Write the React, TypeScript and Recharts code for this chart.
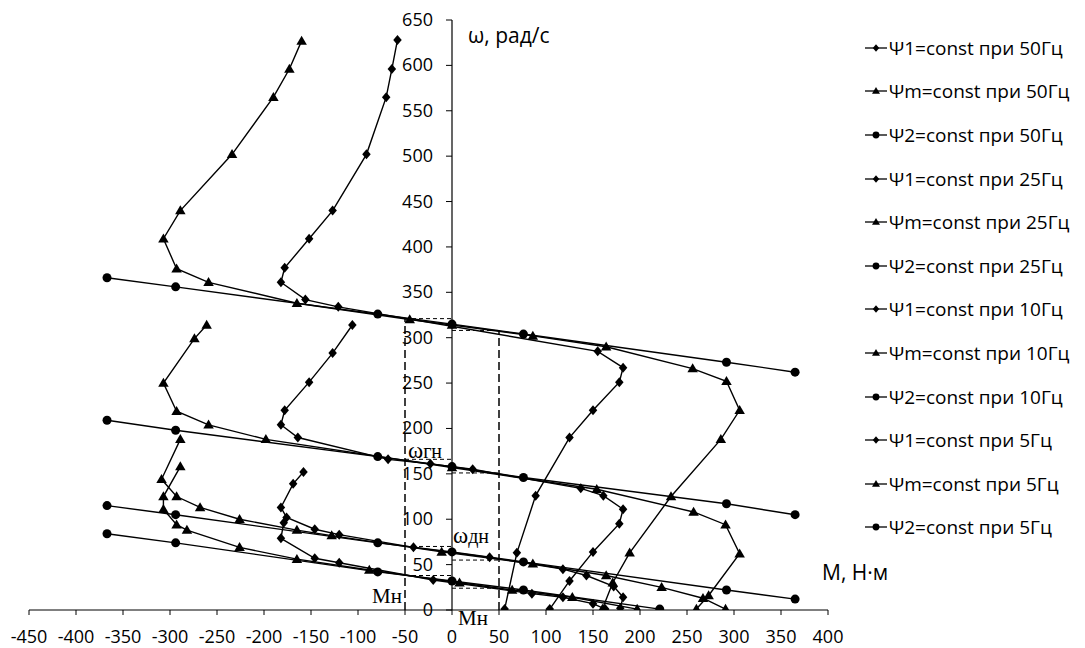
import React from "react"
import { ScatterChart, Scatter, XAxis, YAxis, ReferenceLine, Legend } from "recharts"

// M, Н·м / ω, рад/с  pairs
const psi1_50 = [[-58, 628], [-64, 596], [-70, 565], [-91, 502], [-127, 440], [-152, 409], [-178, 377], [-182, 361], [-156, 342], [-121, 334], [155, 285], [182, 267], [178, 251], [150, 220], [125, 190], [89, 126], [69, 63], [56, 1]]
const psim_50 = [[-160, 627], [-173, 596], [-190, 565], [-234, 502], [-289, 440], [-307, 409], [-293, 376], [-259, 361], [-165, 338], [-45, 320], [0, 314], [86, 302], [164, 290], [256, 266], [292, 252], [306, 220], [286, 188], [233, 125], [189, 63], [171, 30], [160, 1]]
const psi2_50 = [[-367, 366], [-294, 356], [-79, 326], [0, 315], [76, 304], [292, 273], [365, 262]]

const psi1_25 = [[-106, 314], [-127, 283], [-152, 251], [-178, 220], [-182, 204], [-164, 190], [-68, 166], [-23, 161], [22, 155], [137, 134], [161, 126], [182, 111], [178, 95], [150, 64], [125, 32], [104, 1]]
const psim_25 = [[-261, 314], [-274, 299], [-307, 250], [-293, 219], [-259, 204], [-198, 188], [0, 157], [154, 133], [257, 108], [291, 94], [306, 62], [273, 16], [260, 1]]
const psi2_25 = [[-367, 209], [-294, 198], [-79, 169], [0, 158], [76, 146], [292, 117], [365, 105]]

const psi1_10 = [[-158, 152], [-169, 139], [-182, 113], [-176, 102], [-146, 89], [-120, 83], [-41, 69], [40, 58], [118, 45], [143, 38], [172, 26], [182, 14], [179, 2]]
const psim_10 = [[-289, 188], [-309, 144], [-293, 125], [-268, 113], [-226, 100], [-165, 88], [-128, 82], [-11, 64], [86, 51], [164, 38], [223, 25], [267, 13], [291, 1]]
const psi2_10 = [[-367, 115], [-294, 105], [-79, 74], [0, 64], [76, 53], [292, 22], [365, 12]]

const psi1_5 = [[-179, 96], [-182, 79], [-146, 57], [-120, 52], [-20, 33], [85, 18], [118, 14], [150, 7], [163, 1]]
const psim_5 = [[-289, 158], [-307, 125], [-307, 111], [-293, 94], [-282, 88], [-226, 69], [-165, 56], [-88, 44], [8, 30], [64, 22], [128, 14], [197, 1]]
const psi2_5 = [[-367, 84], [-294, 74], [-79, 42], [0, 32], [76, 22], [221, 1]]

const mTicks = [-450, -400, -350, -300, -250, -200, -150, -100, -50, 0, 50, 100, 150, 200, 250, 300, 350, 400]
const wTicks = [0, 50, 100, 150, 200, 250, 300, 350, 400, 450, 500, 550, 600, 650]

// rated torque and the speeds marked with dashed lines
const Mn = 50
const wGen = [321, 166, 70, 38]
const wMot = [308, 151, 55, 24]

const FONT = "'Open Sans', sans-serif"
const SERIF = "'Liberation Serif', 'DejaVu Serif', serif"

const X_MIN = -450
const X_MAX = 400
const LEFT = 29
const TOP = 20
const PLOT_W = 799
const PLOT_H = 590
const zeroX = LEFT + (PLOT_W * (0 - X_MIN)) / (X_MAX - X_MIN)

type Kind = "diamond" | "triangle" | "circle"

const toPts = (arr: number[][]) => arr.map(([m, w]) => ({ m, w }))

const series: { name: string; data: number[][]; kind: Kind }[] = [
  { name: "Ψ1=const при 50Гц", data: psi1_50, kind: "diamond" },
  { name: "Ψm=const при 50Гц", data: psim_50, kind: "triangle" },
  { name: "Ψ2=const при 50Гц", data: psi2_50, kind: "circle" },
  { name: "Ψ1=const при 25Гц", data: psi1_25, kind: "diamond" },
  { name: "Ψm=const при 25Гц", data: psim_25, kind: "triangle" },
  { name: "Ψ2=const при 25Гц", data: psi2_25, kind: "circle" },
  { name: "Ψ1=const при 10Гц", data: psi1_10, kind: "diamond" },
  { name: "Ψm=const при 10Гц", data: psim_10, kind: "triangle" },
  { name: "Ψ2=const при 10Гц", data: psi2_10, kind: "circle" },
  { name: "Ψ1=const при 5Гц", data: psi1_5, kind: "diamond" },
  { name: "Ψm=const при 5Гц", data: psim_5, kind: "triangle" },
  { name: "Ψ2=const при 5Гц", data: psi2_5, kind: "circle" },
]

function Marker({ kind, cx, cy, s }: { kind: Kind; cx: number; cy: number; s: number }) {
  if (kind === "diamond") {
    return <path d={`M${cx},${cy - s}L${cx + s * 0.85},${cy}L${cx},${cy + s}L${cx - s * 0.85},${cy}Z`} fill="#000" />
  }
  if (kind === "triangle") {
    return <path d={`M${cx},${cy - s * 1.05}L${cx + s * 1.05},${cy + s * 0.75}L${cx - s * 1.05},${cy + s * 0.75}Z`} fill="#000" />
  }
  return <circle cx={cx} cy={cy} r={s * 0.9} fill="#000" />
}

function YTick(props: any) {
  const { y, payload } = props
  return (
    <g>
      <line x1={zeroX - 6} x2={zeroX} y1={y} y2={y} stroke="#000" strokeWidth={1} />
      <text x={zeroX - 19} y={y} dy={6} textAnchor="end" fill="#000" fontSize={18} fontFamily={FONT}>
        {payload.value}
      </text>
    </g>
  )
}

function LegendBox() {
  return (
    <div style={{ fontFamily: FONT, fontSize: 19, color: "#000" }}>
      {series.map((s) => (
        <div key={s.name} style={{ height: 43.6, display: "flex", alignItems: "center", whiteSpace: "nowrap" }}>
          <svg width={24} height={12} style={{ marginRight: 1 }}>
            <line x1={1} x2={23} y1={6} y2={6} stroke="#000" strokeWidth={1.3} />
            <Marker kind={s.kind} cx={12} cy={6} s={3.8} />
          </svg>
          <span>{s.name}</span>
        </div>
      ))}
    </div>
  )
}

export default function App() {
  return (
    <div style={{ position: "absolute", left: 0, top: 0, width: 1085, height: 648, background: "#fff" }}>
      <ScatterChart width={1085} height={648} margin={{ top: TOP, right: 1085 - LEFT - PLOT_W, bottom: 0, left: LEFT - 1 }}>
        <XAxis
          type="number"
          dataKey="m"
          domain={[X_MIN, X_MAX]}
          ticks={mTicks}
          interval={0}
          allowDataOverflow
          height={648 - TOP - PLOT_H}
          tickSize={5}
          tickMargin={15}
          stroke="#000"
          tick={{ fill: "#000", fontSize: 18, fontFamily: FONT }}
        />
        <YAxis
          type="number"
          dataKey="w"
          domain={[0, 650]}
          ticks={wTicks}
          interval={0}
          allowDataOverflow
          width={1}
          axisLine={false}
          tickLine={false}
          tick={<YTick />}
        />
        <ReferenceLine x={0} stroke="#000" strokeWidth={1.2} />

        <ReferenceLine segment={[{ x: -Mn, y: 0 }, { x: -Mn, y: wGen[0] }]} stroke="#000" strokeWidth={1.5} strokeDasharray="8 4" />
        <ReferenceLine segment={[{ x: Mn, y: 0 }, { x: Mn, y: wMot[0] }]} stroke="#000" strokeWidth={1.5} strokeDasharray="8 4" />
        {wGen.map((w) => (
          <ReferenceLine key={"g" + w} segment={[{ x: -Mn, y: w }, { x: 0, y: w }]} stroke="#000" strokeWidth={1} strokeDasharray="4 3" />
        ))}
        {wMot.map((w) => (
          <ReferenceLine key={"m" + w} segment={[{ x: 0, y: w }, { x: Mn, y: w }]} stroke="#000" strokeWidth={1} strokeDasharray="4 3" />
        ))}

        {series.map((s) => (
          <Scatter
            key={s.name}
            name={s.name}
            data={toPts(s.data)}
            line={{ stroke: "#000", strokeWidth: 1.4 }}
            isAnimationActive={false}
            shape={(p: any) => <Marker kind={s.kind} cx={p.cx} cy={p.cy} s={5} />}
          />
        ))}

        <Legend
          layout="vertical"
          align="center"
          verticalAlign="middle"
          content={() => <LegendBox />}
          wrapperStyle={{ left: 864, top: 26, width: 221 }}
        />
      </ScatterChart>

      <svg width={1085} height={648} style={{ position: "absolute", left: 0, top: 0, pointerEvents: "none" }}>
        <text x={468} y={43} fontFamily={FONT} fontSize={21} fill="#000">ω, рад/с</text>
        <text x={822} y={580} fontFamily={FONT} fontSize={21} fill="#000">М, Н·м</text>
        <text x={408} y={458} fontFamily={SERIF} fontSize={23} fill="#000">ω<tspan fontSize={20}>гн</tspan></text>
        <text x={453} y={543} fontFamily={SERIF} fontSize={23} fill="#000">ω<tspan fontSize={20}>дн</tspan></text>
        <text x={372} y={603} fontFamily={SERIF} fontSize={21} fill="#000">Мн</text>
        <text x={458} y={625} fontFamily={SERIF} fontSize={21} fill="#000">Мн</text>
      </svg>
    </div>
  )
}
